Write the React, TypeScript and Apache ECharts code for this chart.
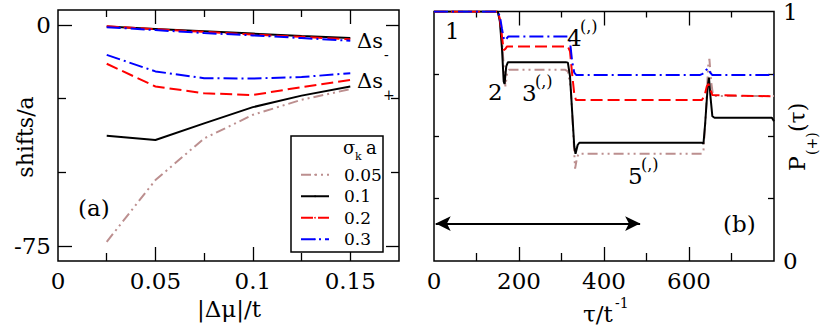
import React, { useEffect, useRef } from 'react';
import * as echarts from 'echarts';

const FONT = 'DejaVu Serif';

// ---------- legend / series styling ----------
const sigmaNames = ['0.05', '0.1', '0.2', '0.3'];
const colors = ['#bc8f8f', '#000000', '#ff0000', '#0000ff'];
const dashes: any[] = [[10, 4, 2, 4, 2, 4], 'solid', [12, 5], [14, 4, 2, 4]];

// ---------- panel (a) ----------
const deltaMu = [0.025, 0.05, 0.075, 0.1, 0.125, 0.15];
const sMinus01 = [-0.6, -1.4, -2.2, -3.0, -3.8, -4.5];
const sMinus02 = [-0.5, -1.5, -2.4, -3.3, -4.1, -4.9];
const sMinus03 = [-0.8, -1.8, -2.8, -3.6, -4.5, -5.4];
const sPlus005 = [-73.5, -52.6, -38.5, -30.5, -25.4, -21.8];
const sPlus01 = [-37.6, -39.0, -33.4, -27.9, -24.0, -20.9];
const sPlus02 = [-13.2, -20.9, -23.2, -23.8, -21.1, -18.7];
const sPlus03 = [-10.2, -15.8, -18.1, -18.2, -17.7, -16.4];

const xTicksA = [0, 0.05, 0.1, 0.15];
const xMinorA = [0.025, 0.075, 0.125];
const yTicksA = [0, -75];
const yMinorA = [-25, -50];

// ---------- panel (b) ----------
const tau005 = [0, 150, 155, 160, 165, 168, 172, 176, 308, 315, 322, 328, 332, 336, 340, 630, 634, 640, 645, 648, 652, 656, 660, 800];
const p005 = [1, 1, 0.97, 0.88, 0.76, 0.7, 0.75, 0.767, 0.767, 0.76, 0.69, 0.5, 0.37, 0.41, 0.43, 0.43, 0.44, 0.6, 0.78, 0.81, 0.72, 0.67, 0.661, 0.661];
const tau01 = [0, 150, 155, 160, 164, 166, 170, 174, 310, 315, 320, 325, 330, 333, 338, 342, 630, 634, 638, 644, 647, 651, 655, 660, 795, 800];
const p01 = [1, 1, 0.96, 0.85, 0.72, 0.71, 0.78, 0.797, 0.797, 0.795, 0.74, 0.6, 0.46, 0.43, 0.465, 0.474, 0.474, 0.47, 0.55, 0.7, 0.735, 0.65, 0.58, 0.574, 0.574, 0.56];
const tau02 = [0, 150, 155, 160, 164, 168, 172, 315, 320, 325, 330, 334, 630, 636, 642, 646, 650, 655, 800];
const p02 = [1, 1, 0.97, 0.9, 0.845, 0.85, 0.86, 0.86, 0.84, 0.75, 0.67, 0.645, 0.645, 0.66, 0.7, 0.71, 0.69, 0.665, 0.66];
const tau03 = [0, 150, 155, 160, 165, 170, 175, 315, 320, 325, 330, 335, 625, 632, 640, 645, 650, 655, 800];
const p03 = [1, 1, 0.98, 0.93, 0.885, 0.89, 0.9, 0.9, 0.88, 0.8, 0.755, 0.745, 0.745, 0.75, 0.765, 0.772, 0.755, 0.745, 0.745];

const xTicksB = [0, 200, 400, 600];
const xMajorB = [200, 400, 600];
const xMinorB = [100, 300, 500, 700];
const yTicksB = [0, 1];
const yMinorB = [0.25, 0.5, 0.75];
const arrowSpan = [[4, 0.15], [485, 0.15]];

const zip = (xs: number[], ys: number[]) => xs.map((x, i) => [x, ys[i]]);

const tickAxis = (gridIndex: number, position: string, min: number, max: number, ticks: number[], len: number, labels?: number[], margin = 7) => ({
  type: 'value',
  gridIndex,
  position,
  min,
  max,
  axisLine: { show: false, onZero: false },
  splitLine: { show: false },
  axisTick: { show: ticks.length > 0, inside: true, length: len, customValues: ticks, lineStyle: { color: '#000', width: 1.3 } },
  axisLabel: labels
    ? { show: true, customValues: labels, fontSize: 23, fontFamily: FONT, color: '#000', margin, formatter: (v: number) => String(v) }
    : { show: false },
});

const txt = (text: string, x: number, y: number, size: number, extra: any = {}) => ({
  type: 'text',
  x,
  y,
  z: 20,
  style: { text, fontSize: size, fontFamily: FONT, fill: '#000', align: 'left', verticalAlign: 'middle', ...extra },
});

function buildOption() {
  const seriesA: any[] = [];
  const plusSets = [sPlus005, sPlus01, sPlus02, sPlus03];
  const minusSets: (number[] | null)[] = [null, sMinus01, sMinus02, sMinus03];
  plusSets.forEach((vals, i) => {
    seriesA.push({
      name: sigmaNames[i], type: 'line', xAxisIndex: 0, yAxisIndex: 0, symbol: 'none',
      data: zip(deltaMu, vals), lineStyle: { color: colors[i], width: 2, type: dashes[i] }, itemStyle: { color: colors[i] },
    });
  });
  minusSets.forEach((vals, i) => {
    if (!vals) return;
    seriesA.push({
      name: sigmaNames[i], type: 'line', xAxisIndex: 0, yAxisIndex: 0, symbol: 'none',
      data: zip(deltaMu, vals), lineStyle: { color: colors[i], width: 2, type: dashes[i] }, itemStyle: { color: colors[i] },
    });
  });
  const bSets = [zip(tau005, p005), zip(tau01, p01), zip(tau02, p02), zip(tau03, p03)];
  const seriesB = bSets.map((d, i) => ({
    name: sigmaNames[i], type: 'line', xAxisIndex: 4, yAxisIndex: 5, symbol: 'none',
    data: d, lineStyle: { color: colors[i], width: 2, type: dashes[i] }, itemStyle: { color: colors[i] },
    ...(i === 1
      ? {
          markLine: {
            silent: true, symbol: ['arrow', 'arrow'], symbolSize: [11, 15],
            label: { show: false },
            lineStyle: { color: '#000', width: 2.2, type: 'solid' },
            data: [[{ coord: arrowSpan[0] }, { coord: arrowSpan[1] }]],
          },
        }
      : {}),
  }));

  return {
    animation: false,
    textStyle: { fontFamily: FONT },
    grid: [
      { left: 58, top: 10, width: 341, height: 251, show: true, borderColor: '#000', borderWidth: 1.5, backgroundColor: 'transparent' },
      { left: 434, top: 10, width: 340, height: 251, show: true, borderColor: '#000', borderWidth: 1.5, backgroundColor: 'transparent' },
    ],
    xAxis: [
      tickAxis(0, 'bottom', 0, 0.175, [0.05, 0.1, 0.15], 14, xTicksA, 8),
      tickAxis(0, 'bottom', 0, 0.175, xMinorA, 8),
      tickAxis(0, 'top', 0, 0.175, [0.05, 0.1, 0.15], 14),
      tickAxis(0, 'top', 0, 0.175, xMinorA, 7),
      tickAxis(1, 'bottom', 0, 800, xMajorB, 14, xTicksB, 8),
      tickAxis(1, 'bottom', 0, 800, xMinorB, 8),
      tickAxis(1, 'top', 0, 800, xMajorB, 14),
      tickAxis(1, 'top', 0, 800, xMinorB, 6),
    ],
    yAxis: [
      tickAxis(0, 'left', -80, 5, yTicksA, 14, yTicksA, 7),
      tickAxis(0, 'left', -80, 5, yMinorA, 8),
      tickAxis(0, 'right', -80, 5, yTicksA, 13),
      tickAxis(0, 'right', -80, 5, yMinorA, 8),
      tickAxis(1, 'left', 0, 1, yMinorB, 5),
      tickAxis(1, 'right', 0, 1, [], 0, yTicksB, 9),
      tickAxis(1, 'right', 0, 1, yMinorB, 6),
    ],
    legend: {
      data: sigmaNames,
      orient: 'vertical',
      left: 300,
      top: 164,
      padding: 0,
      itemGap: 0,
      itemWidth: 28,
      itemHeight: 2,
      z: 10,
      selectedMode: false,
      textStyle: { fontSize: 17, fontFamily: FONT, color: '#000', lineHeight: 21.5, padding: [0, 0, 0, 10] },
    },
    graphic: [
      { type: 'rect', z: 5, shape: { x: 291, y: 136, width: 92, height: 116 }, style: { fill: '#fff', stroke: '#000', lineWidth: 1.5 } },
      txt('σ', 343, 147, 18),
      txt('k', 355, 156, 11),
      txt('a', 366, 147, 18),
      txt('Δs', 357, 41, 21),
      txt('-', 384, 55, 14),
      txt('Δs', 357, 81, 21),
      txt('+', 383, 95, 14),
      txt('(a)', 78, 208, 23),
      { type: 'group', x: 25, y: 137, rotation: Math.PI / 2, children: [
        { type: 'text', x: 0, y: 0, style: { text: 'shifts/a', fontSize: 22, fontFamily: FONT, fill: '#000', align: 'center', verticalAlign: 'middle' } },
      ] },
      txt('|Δμ|/t', 229, 309, 23, { align: 'center' }),
      txt('1', 445, 31, 23),
      txt('2', 488, 92, 23),
      txt('3', 522, 93, 23),
      txt('(,)', 535, 81, 16),
      txt('4', 567, 38, 23),
      txt('(,)', 580, 26, 16),
      txt('5', 628, 176, 23),
      txt('(,)', 641, 164, 16),
      txt('(b)', 723, 224, 23),
      txt('τ/t', 583, 314, 23),
      txt('-1', 615, 303, 14),
      { type: 'group', x: 797, y: 136, rotation: Math.PI / 2, children: [
        { type: 'text', x: -35, y: 0, style: { text: 'P', fontSize: 22, fontFamily: FONT, fill: '#000', align: 'left', verticalAlign: 'middle' } },
        { type: 'text', x: -19, y: 15, style: { text: '(+)', fontSize: 14, fontFamily: FONT, fill: '#000', align: 'left', verticalAlign: 'middle' } },
        { type: 'text', x: 4, y: 0, style: { text: '(τ)', fontSize: 22, fontFamily: FONT, fill: '#000', align: 'left', verticalAlign: 'middle' } },
      ] },
    ],
    series: [...seriesA, ...seriesB],
  };
}

export default function App() {
  const ref = useRef<HTMLDivElement>(null);
  useEffect(() => {
    const chart = echarts.init(ref.current!, null, { renderer: 'svg' });
    chart.setOption(buildOption() as any);
    return () => chart.dispose();
  }, []);
  return <div ref={ref} style={{ position: 'fixed', left: 0, top: 0, width: 830, height: 334, background: '#fff' }} />;
}
